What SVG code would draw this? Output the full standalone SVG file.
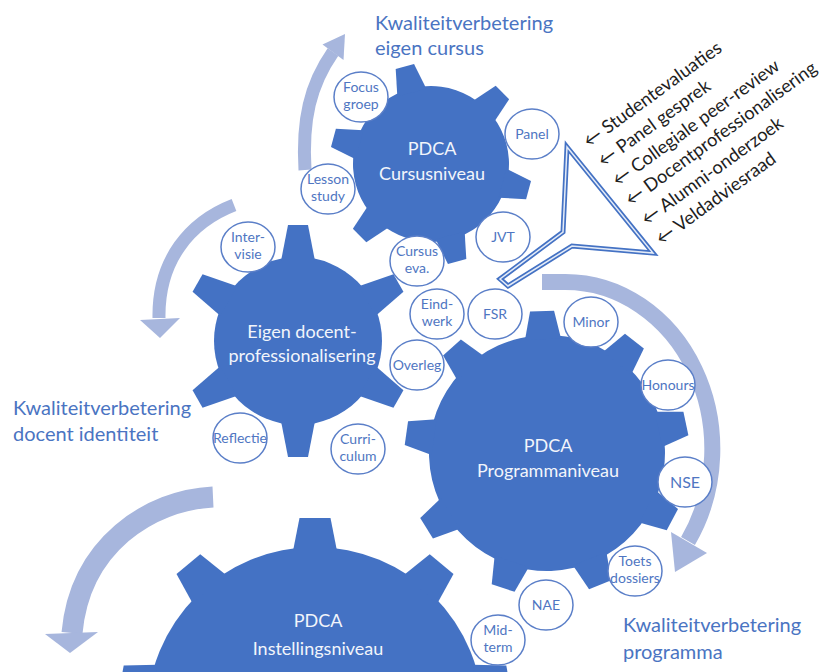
<svg xmlns="http://www.w3.org/2000/svg" xmlns:xlink="http://www.w3.org/1999/xlink" width="826" height="672" viewBox="0 0 826 672">
<style>
.gear{fill:#4472c4}
.gl{font-family:Lato,"Liberation Sans",sans-serif;font-size:18px;fill:#f2f5fb;text-anchor:middle}
.bub{fill:#ffffff;stroke:#5b7fc8;stroke-width:1.5}
.bt{font-family:Lato,"Liberation Sans",sans-serif;font-size:14px;fill:#4f76c2;text-anchor:middle}
.ttl{font-family:Lato,"Liberation Sans",sans-serif;font-size:20px;fill:#4a74c2}
.band{fill:none;stroke:#a7b6dd}
.head{fill:#a7b6dd}
.src{font-family:Lato,"Liberation Sans","DejaVu Sans",sans-serif;font-size:18.3px;fill:#1e1e1e}
</style>
<defs>
<polygon id="t1" points="-9.5,-101 9.5,-101 15,-74 -15,-74"/>
<polygon id="t2" points="-10,-116 10,-116 17,-80 -17,-80"/>
<polygon id="t3" points="-12,-142 12,-142 18,-114 -18,-114"/>
<polygon id="t4" points="-15.5,-197 15.5,-197 22,-164 -22,-164"/>
</defs>

<g id="connectors">
  <path class="band" stroke-width="13" d="M305,170 C302,120 310,85 333,52"/>
  <polygon class="head" points="345,34 343.5,60 322.5,44.5"/>
  <path class="band" stroke-width="13" d="M234,205 C190,222 158,260 159,318"/>
  <polygon class="head" points="160,338 140,320 180,318"/>
  <path class="band" stroke-width="16" d="M542,282 L565,282 A147 167 0 0 1 688,541"/>
  <polygon class="head" points="675,572 707,553 671,532"/>
  <path class="band" stroke-width="21" d="M213,497 C150,500 80,545 72,633"/>
  <polygon class="head" points="70,653 45,634 98,632"/>
</g>

<g id="gear-cursus" class="gear" transform="translate(431,164) rotate(-15)">
  <circle r="78"/>
  <use xlink:href="#t1"/><use xlink:href="#t1" transform="rotate(60)"/><use xlink:href="#t1" transform="rotate(120)"/>
  <use xlink:href="#t1" transform="rotate(180)"/><use xlink:href="#t1" transform="rotate(240)"/><use xlink:href="#t1" transform="rotate(300)"/>
</g>
<g id="gear-docent" class="gear" transform="translate(298,341)">
  <circle r="84"/>
  <use xlink:href="#t2"/><use xlink:href="#t2" transform="rotate(60)"/><use xlink:href="#t2" transform="rotate(120)"/>
  <use xlink:href="#t2" transform="rotate(180)"/><use xlink:href="#t2" transform="rotate(240)"/><use xlink:href="#t2" transform="rotate(300)"/>
</g>
<g id="gear-programma" class="gear" transform="translate(547,453) rotate(-2)">
  <circle r="118"/>
  <use xlink:href="#t3"/><use xlink:href="#t3" transform="rotate(40)"/><use xlink:href="#t3" transform="rotate(80)"/>
  <use xlink:href="#t3" transform="rotate(120)"/><use xlink:href="#t3" transform="rotate(160)"/><use xlink:href="#t3" transform="rotate(200)"/>
  <use xlink:href="#t3" transform="rotate(240)"/><use xlink:href="#t3" transform="rotate(280)"/><use xlink:href="#t3" transform="rotate(320)"/>
</g>
<g id="gear-instelling" class="gear" transform="translate(315,715)">
  <circle r="168"/>
  <use xlink:href="#t4"/><use xlink:href="#t4" transform="rotate(40)"/><use xlink:href="#t4" transform="rotate(80)"/>
  <use xlink:href="#t4" transform="rotate(120)"/><use xlink:href="#t4" transform="rotate(160)"/><use xlink:href="#t4" transform="rotate(200)"/>
  <use xlink:href="#t4" transform="rotate(240)"/><use xlink:href="#t4" transform="rotate(280)"/><use xlink:href="#t4" transform="rotate(320)"/>
</g>

<g id="gear-labels">
  <text class="gl" x="432" y="155">PDCA</text>
  <text class="gl" x="432" y="180">Cursusniveau</text>
  <text class="gl" x="302" y="338">Eigen docent-</text>
  <text class="gl" x="302" y="362">professionalisering</text>
  <text class="gl" x="548" y="452">PDCA</text>
  <text class="gl" x="548" y="477">Programmaniveau</text>
  <text class="gl" x="318" y="627">PDCA</text>
  <text class="gl" x="318" y="655">Instellingsniveau</text>
</g>

<g id="funnel">
  <path d="M567,147 L653,253 L572,246 L508,286 L500,279 L563,232 Z" fill="none" stroke="#4472c4" stroke-width="5" stroke-linejoin="miter"/>
  <path d="M567,147 L653,253 L572,246 L508,286 L500,279 L563,232 Z" fill="none" stroke="#e4ebf7" stroke-width="1.5"/>
</g>

<g id="n-focus"><ellipse class="bub" cx="361" cy="97" rx="27" ry="25"/><text class="bt" x="361" y="92">Focus</text><text class="bt" x="361" y="109">groep</text></g>
<g id="n-panel"><ellipse class="bub" cx="532" cy="134" rx="27" ry="25"/><text class="bt" x="532" y="139">Panel</text></g>
<g id="n-lesson"><ellipse class="bub" cx="328" cy="189" rx="27" ry="25"/><text class="bt" x="328" y="184">Lesson</text><text class="bt" x="328" y="201">study</text></g>
<g id="n-jvt"><ellipse class="bub" cx="503" cy="237" rx="27" ry="25"/><text class="bt" x="503" y="242">JVT</text></g>
<g id="n-cursuseva"><ellipse class="bub" cx="417" cy="261" rx="27" ry="25"/><text class="bt" x="417" y="256">Cursus</text><text class="bt" x="417" y="273">eva.</text></g>
<g id="n-eindwerk"><ellipse class="bub" cx="437" cy="314" rx="27" ry="25"/><text class="bt" x="437" y="309">Eind-</text><text class="bt" x="437" y="326">werk</text></g>
<g id="n-fsr"><ellipse class="bub" cx="495" cy="314" rx="27" ry="25"/><text class="bt" x="495" y="319">FSR</text></g>
<g id="n-overleg"><ellipse class="bub" cx="417" cy="365" rx="27" ry="25"/><text class="bt" x="417" y="370">Overleg</text></g>
<g id="n-intervisie"><ellipse class="bub" cx="248" cy="247" rx="27" ry="25"/><text class="bt" x="248" y="242">Inter-</text><text class="bt" x="248" y="259">visie</text></g>
<g id="n-reflectie"><ellipse class="bub" cx="240" cy="438" rx="27" ry="25"/><text class="bt" x="240" y="443">Reflectie</text></g>
<g id="n-curriculum"><ellipse class="bub" cx="358" cy="449" rx="27" ry="25"/><text class="bt" x="358" y="444">Curri-</text><text class="bt" x="358" y="461">culum</text></g>
<g id="n-minor"><ellipse class="bub" cx="591" cy="322" rx="27" ry="25"/><text class="bt" x="591" y="327">Minor</text></g>
<g id="n-honours"><ellipse class="bub" cx="668" cy="385" rx="27" ry="25"/><text class="bt" x="668" y="390">Honours</text></g>
<g id="n-nse"><ellipse class="bub" cx="685" cy="482" rx="27" ry="25"/><text class="bt" x="685" y="488" style="font-size:16px">NSE</text></g>
<g id="n-toets"><ellipse class="bub" cx="635" cy="571" rx="27" ry="25"/><text class="bt" x="635" y="566">Toets</text><text class="bt" x="635" y="583">dossiers</text></g>
<g id="n-nae"><ellipse class="bub" cx="546" cy="605" rx="27" ry="25"/><text class="bt" x="546" y="610">NAE</text></g>
<g id="n-midterm"><ellipse class="bub" cx="498" cy="640" rx="27" ry="25"/><text class="bt" x="498" y="635">Mid-</text><text class="bt" x="498" y="652">term</text></g>

<g id="titles">
  <text class="ttl" x="375" y="30">Kwaliteitverbetering</text>
  <text class="ttl" x="375" y="55">eigen cursus</text>
  <text class="ttl" x="13" y="415">Kwaliteitverbetering</text>
  <text class="ttl" x="13" y="441">docent identiteit</text>
  <text class="ttl" x="623" y="632">Kwaliteitverbetering</text>
  <text class="ttl" x="623" y="659">programma</text>
</g>

<g id="sources">
  <text class="src" transform="translate(589,148) rotate(-36)">← Studentevaluaties</text>
  <text class="src" transform="translate(603.5,167.5) rotate(-36)">← Panel gesprek</text>
  <text class="src" transform="translate(618,187) rotate(-36)">← Collegiale peer-review</text>
  <text class="src" transform="translate(631,206.5) rotate(-36)">← Docentprofessionalisering</text>
  <text class="src" transform="translate(647,226) rotate(-36)">← Alumni-onderzoek</text>
  <text class="src" transform="translate(661.5,245.5) rotate(-36)">← Veldadviesraad</text>
</g>
</svg>
